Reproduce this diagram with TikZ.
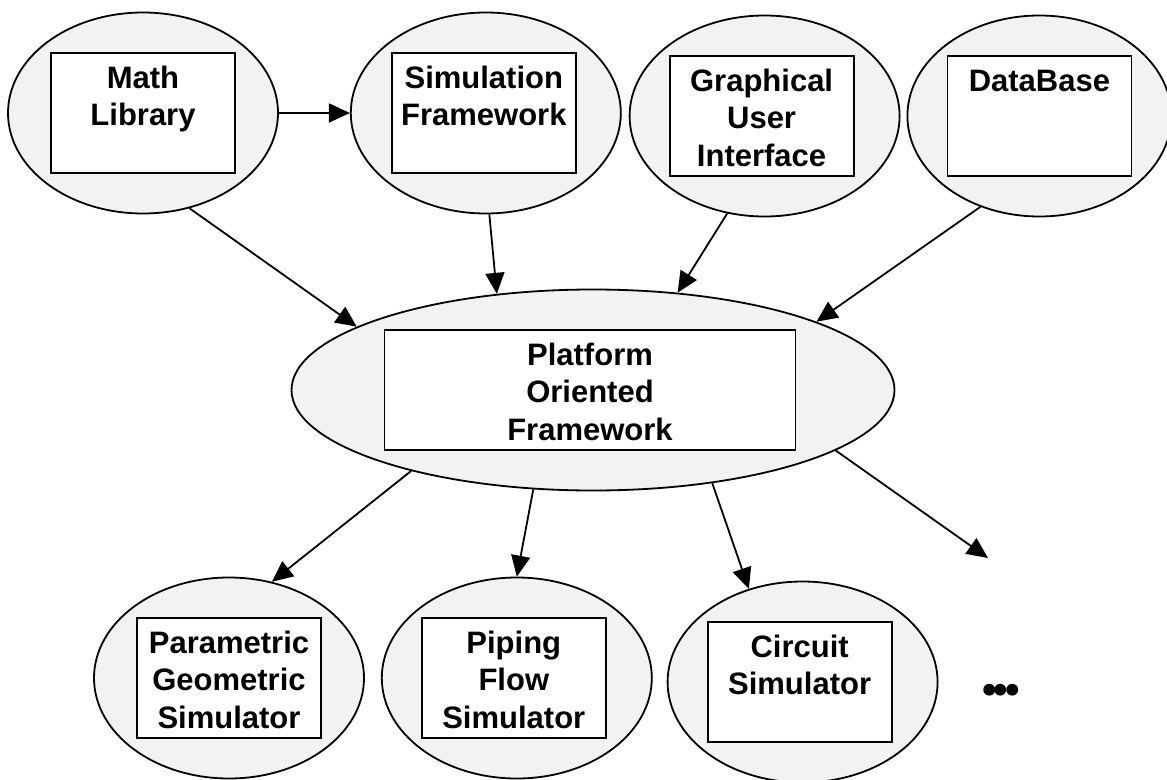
\documentclass[tikz,border=0pt]{standalone}
\usepackage{fontspec}
\setmainfont{Liberation Sans}
\newfontfamily\dotfont{Lato}
\usetikzlibrary{positioning,arrows.meta,shapes.geometric}
\definecolor{gris}{HTML}{F2F2F2}

\begin{document}
\begin{tikzpicture}[x=1pt,y=-1pt,
      blob/.style={ellipse,draw=black,fill=gris,line width=1.8pt,inner sep=0pt,
                   minimum width=270pt,minimum height=201pt},
      caja/.style={rectangle,draw=black,fill=white,line width=1.8pt,inner sep=0pt,
                   minimum width=184pt,text height=110pt,text depth=10pt,align=center,
                   font=\fontsize{31}{37.5}\selectfont\bfseries},
      fl/.style={-{Triangle[length=21pt,width=19pt]},line width=1.8pt}]
    \useasboundingbox (0,0) rectangle (1167,779);
    % top row
    \node[blob] (math) at (143,113) {};
    \node[blob,right=71pt of math] (sim) {};
    \node[blob,right=7pt of sim,yshift=-3pt] (gui) {};
    \node[blob,right=6pt of gui,minimum width=264pt] (db) {};
    \node[caja] (mathbox) at (math) {Math\\Library\\\mbox{}};
    \node[caja] (simbox) at ([xshift=-2pt]sim) {Simulation\\Framework\\\mbox{}};
    \node[caja] (guibox) at ([xshift=-3pt]gui) {Graphical\\User\\Interface};
    \node[caja] (dbbox) at (db) {DataBase\\\mbox{}\\\mbox{}};
    % platform
    \node[blob,minimum width=603pt] (plat) at (593,390) {};
    \node[caja,minimum width=411pt] (platbox) at ([xshift=-3pt]plat) {Platform\\Oriented\\Framework};
    % bottom row
    \node[blob] (param) at (229,678) {};
    \node[blob,right=16pt of param] (pipe) {};
    \node[blob,right=14pt of pipe,yshift=-4pt] (circ) {};
    \node[caja] (parambox) at (param) {Parametric\\Geometric\\Simulator};
    \node[caja] (pipebox) at ([xshift=-3pt]pipe) {Piping\\Flow\\Simulator};
    \node[caja] (circbox) at ([xshift=-3pt]circ) {Circuit\\Simulator\\\mbox{}};
    \node[font=\dotfont\fontsize{78}{78}\selectfont\bfseries,anchor=base] (etc) at (1001,695) {.\kern-7pt.\kern-7pt.};
    \coordinate (more) at (988,558);
    % connectors
    \draw[fl] (math) -- (sim);
    \draw[fl] (math.-64) -- (plat.165);
    \draw[fl] (sim.-88) -- (plat.135);
    \draw[fl] (gui.-111) -- (plat.49);
    \draw[fl] (db.-123) -- (plat.17.5);
    \draw[fl] (plat.-156) -- (param.66);
    \draw[fl] (plat.-121) -- (pipe.90);
    \draw[fl] (plat.-38) -- (circ.120);
    \draw[fl] (plat.-14) -- (more);
  \end{tikzpicture}
\end{document}
